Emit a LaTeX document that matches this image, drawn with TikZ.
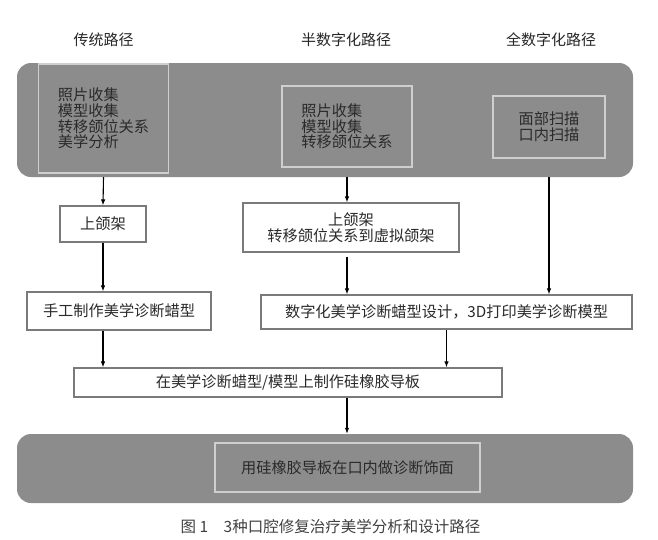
\documentclass[tikz,border=0pt]{standalone}
\usepackage{fontspec}
\setmainfont{Noto Sans CJK SC}
\usetikzlibrary{arrows.meta}
\definecolor{grayfill}{HTML}{8C8C8C}
\definecolor{innerline}{HTML}{CFCFCF}
\definecolor{boxline}{HTML}{7A7A7A}
\definecolor{darktext}{HTML}{2A2A2A}
\begin{document}
\begin{tikzpicture}[x=1pt,y=-1pt,
  txt/.style={font=\fontsize{15.2}{15.6}\selectfont},
  graybg/.style={fill=grayfill, rounded corners=14pt, draw=none, inner sep=0pt},
  innerbox/.style={txt, draw=innerline, line width=1.2pt, fill=grayfill, inner sep=0pt, align=left, text=darktext},
  whitebox/.style={txt, draw=boxline, line width=1.2pt, fill=white, inner sep=0pt, align=center, text=darktext},
  arr/.style={-{Latex[length=6pt,width=4.5pt]}, line width=1.1pt, black},
  ttl/.style={font=\fontsize{15}{15}\selectfont, text=black!85}
]
\useasboundingbox (0,0) rectangle (658,539);
% titles
\node[ttl] (t1) at (103.5,40) {传统路径};
\node[ttl] (t2) at (346,40) {半数字化路径};
\node[ttl] (t3) at (551,40) {全数字化路径};
% top gray panel
\node[graybg, minimum width=616pt, minimum height=114pt] (top) at (325,120) {};
\node[innerbox, minimum width=130pt, minimum height=109pt] (b1) at (103.5,118.5) {照片收集\\模型收集\\转移颌位关系\\美学分析};
\node[innerbox, minimum width=130pt, minimum height=81pt] (b2) at (347,126.5) {照片收集\\模型收集\\转移颌位关系};
\node[innerbox, minimum width=112pt, minimum height=62pt] (b3) at (549,127) {面部扫描\\口内扫描};
% white boxes
\node[whitebox, minimum width=86pt, minimum height=36pt] (shanghe) at (103,224) {上颌架};
\node[whitebox, minimum width=216pt, minimum height=49pt] (virtual) at (351,227.5) {上颌架\\转移颌位关系到虚拟颌架};
\node[whitebox, minimum width=184pt, minimum height=38pt] (manual) at (119,311) {手工制作美学诊断蜡型};
\node[whitebox, minimum width=371pt, minimum height=34pt] (digital) at (446.5,312) {数字化美学诊断蜡型设计，3D打印美学诊断模型};
\node[whitebox, minimum width=428pt, minimum height=29pt] (guide) at (288,382.5) {在美学诊断蜡型/模型上制作硅橡胶导板};
% bottom gray panel
\node[graybg, minimum width=616pt, minimum height=69pt] (bottom) at (325,468.5) {};
\node[innerbox, align=center, minimum width=265pt, minimum height=49pt] (b4) at (347.5,467.5) {用硅橡胶导板在口内做诊断饰面};
% arrows
\draw[arr] (top.south -| b1) -- (shanghe.north);
\draw[arr] (top.south -| b2) -- (virtual.north -| b2);
\draw[arr] (top.south -| b3) -- (digital.north -| b3);
\draw[arr] (shanghe.south) -- (manual.north -| shanghe);
\draw[arr, shorten <=4pt] (virtual.south -| b2) -- (digital.north -| b2);
\draw[arr] (manual.south -| shanghe) -- (guide.north -| shanghe);
\draw[arr] (digital.south) -- (guide.north -| digital);
\draw[arr] (guide.south -| b2) -- (bottom.north -| b2);
% caption
\node[font=\fontsize{15.5}{15.5}\selectfont, text=black!75] (cap) at (330.5,527) {图 1\hspace{1em}3种口腔修复治疗美学分析和设计路径};
\end{tikzpicture}
\end{document}
